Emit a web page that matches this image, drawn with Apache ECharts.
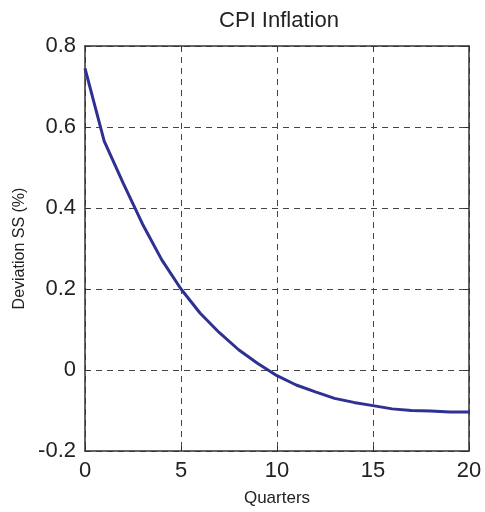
<!DOCTYPE html>
<html>
<head>
<meta charset="utf-8">
<script src="https://cdn.jsdelivr.net/npm/echarts@6/dist/echarts.min.js"></script>
<style>
  html, body { margin: 0; padding: 0; background: #fff; }
  #chart { width: 485px; height: 512px; }
</style>
</head>
<body>
<div id="chart"></div>
<script>
// quarters after shock
var quarters = [0, 1, 2, 3, 4, 5, 6, 7, 8, 9, 10, 11, 12, 13, 14, 15, 16, 17, 18, 19, 20];
// deviation from steady state, %
var cpiDeviation = [0.745, 0.565, 0.46, 0.36, 0.272, 0.2, 0.14, 0.092, 0.05, 0.016, -0.014,
                    -0.037, -0.054, -0.07, -0.08, -0.088, -0.096, -0.1, -0.101, -0.104, -0.104];

var chart = echarts.init(document.getElementById('chart'));

var points = [];
for (var i = 0; i < quarters.length; i++) {
  points.push([quarters[i], cpiDeviation[i]]);
}

var fontFamily = '"Liberation Sans", Arial, sans-serif';
var gridLine = { show: true, lineStyle: { color: '#444', type: [6, 5], width: 1 } };
var boxLine = { show: true, onZero: false, lineStyle: { color: '#333', width: 1.5 } };
var tickIn = { show: true, inside: true, length: 5, lineStyle: { color: '#333' } };

var option = {
  backgroundColor: '#fff',
  animation: false,
  title: {
    text: 'CPI Inflation',
    left: 274,
    top: 5,
    textAlign: 'center',
    textStyle: { fontFamily: fontFamily, fontSize: 22, fontWeight: 'normal', color: '#222' }
  },
  grid: { left: 85, right: 16, top: 46, bottom: 60 },
  xAxis: [{
    type: 'value',
    min: 0, max: 20, interval: 5,
    name: 'Quarters',
    nameLocation: 'middle',
    nameGap: 39,
    nameTextStyle: { fontFamily: fontFamily, fontSize: 17, color: '#222' },
    axisLine: boxLine,
    axisTick: tickIn,
    axisLabel: { fontFamily: fontFamily, fontSize: 22, color: '#222', margin: 9 },
    splitLine: gridLine
  }, {
    type: 'value',
    position: 'top',
    min: 0, max: 20, interval: 5,
    axisLine: boxLine,
    axisTick: tickIn,
    axisLabel: { show: false },
    splitLine: { show: false }
  }],
  yAxis: [{
    type: 'value',
    min: -0.2, max: 0.8, interval: 0.2,
    name: 'Deviation SS (%)',
    nameLocation: 'middle',
    nameGap: 53,
    nameTextStyle: { fontFamily: fontFamily, fontSize: 16, color: '#222' },
    axisLine: boxLine,
    axisTick: tickIn,
    axisLabel: {
      fontFamily: fontFamily, fontSize: 22, color: '#222', margin: 9,
      formatter: function (v) { return Math.abs(v) < 1e-9 ? '0' : String(Math.round(v * 10) / 10); }
    },
    splitLine: gridLine
  }, {
    type: 'value',
    position: 'right',
    min: -0.2, max: 0.8, interval: 0.2,
    axisLine: boxLine,
    axisTick: tickIn,
    axisLabel: { show: false },
    splitLine: { show: false }
  }],
  series: [{
    type: 'line',
    data: points,
    showSymbol: false,
    lineStyle: { color: '#2e3192', width: 3 },
    itemStyle: { color: '#2e3192' }
  }]
};

chart.setOption(option);
</script>
</body>
</html>
